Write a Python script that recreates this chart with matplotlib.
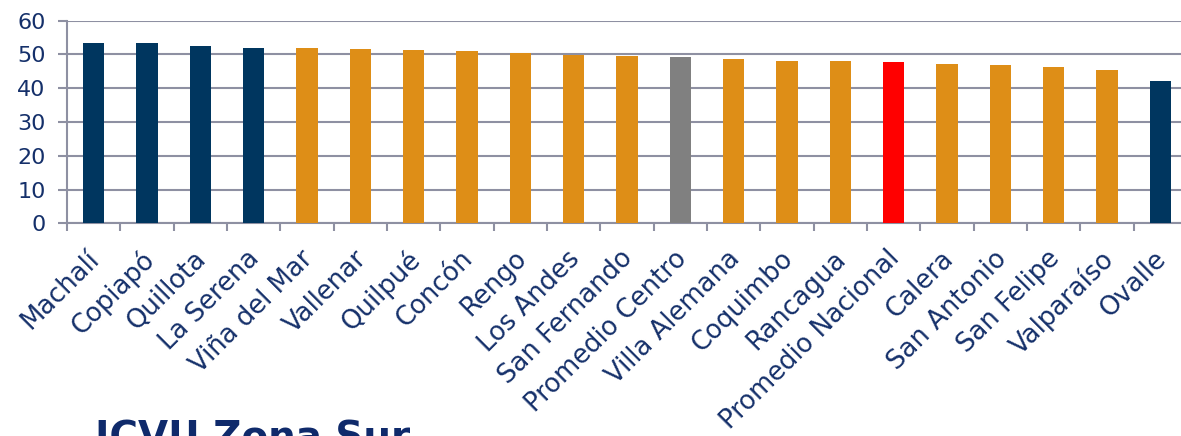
import numpy as np
import matplotlib
matplotlib.use("Agg")
import matplotlib.pyplot as plt
import matplotlib.transforms as mtransforms

# Data
# ----------------------------------------------------------------------
comunas = ["Machalí", "Copiapó", "Quillota", "La Serena", "Viña del Mar",
           "Vallenar", "Quilpué", "Concón", "Rengo", "Los Andes",
           "San Fernando", "Promedio Centro", "Villa Alemana", "Coquimbo",
           "Rancagua", "Promedio Nacional", "Calera", "San Antonio",
           "San Felipe", "Valparaíso", "Ovalle"]
icvu = [53.3, 53.3, 52.6, 52.0, 51.9, 51.6, 51.3, 51.0, 50.4, 49.8,
        49.6, 49.2, 48.7, 48.1, 48.1, 47.8, 47.2, 46.9, 46.3, 45.4, 42.2]
grupo = ["sur", "sur", "sur", "sur", "otra", "otra", "otra", "otra", "otra",
         "otra", "otra", "centro", "otra", "otra", "otra", "nacional", "otra",
         "otra", "otra", "otra", "sur"]
yticks = [0, 10, 20, 30, 40, 50, 60]
TITLE = "ICVU Zona Sur"
# ----------------------------------------------------------------------

COLORS = {"sur": "#00365F", "otra": "#DE8E17", "centro": "#808080",
          "nacional": "#FF0000"}
TEXT = "#15306A"
GRID = "#8E90A2"
LW = 1.5

fig = plt.figure(figsize=(11.81, 4.36), dpi=100)
ax = fig.add_axes([67 / 1181, 1 - 223.3 / 436, 1120 / 1181, 202.6 / 436])

x = np.arange(len(comunas))
ax.bar(x, icvu, width=0.4, color=[COLORS[g] for g in grupo], zorder=3)

ax.set_ylim(0, 60)
ax.set_xlim(-0.5, len(comunas) - 0.5)
ax.set_yticks(yticks)
ax.yaxis.grid(True, color=GRID, linewidth=LW, zorder=0)
ax.tick_params(axis="y", length=6.5, width=LW, color=GRID, labelsize=16,
               labelcolor=TEXT, pad=9)

# category ticks sit between the bars
ax.set_xticks(x - 0.5, minor=True)
ax.set_xticks(x)
ax.tick_params(axis="x", which="minor", length=5.5, width=LW, color=GRID,
               direction="out")
ax.tick_params(axis="x", which="major", length=0, pad=16)
ax.set_xticklabels(comunas, rotation=45, ha="right", rotation_mode="anchor",
                   fontsize=18.6, color=TEXT)
shift = mtransforms.ScaledTranslation(-7 / 100, 0, fig.dpi_scale_trans)
for lbl in ax.get_xticklabels():
    lbl.set_transform(lbl.get_transform() + shift)

for side in ["top", "right"]:
    ax.spines[side].set_visible(False)
for side in ["left", "bottom"]:
    ax.spines[side].set_color(GRID)
    ax.spines[side].set_linewidth(LW)

fig.text(95 / 1181, 1 - 419 / 436, TITLE, fontsize=28, fontweight="bold",
         color="#0F2A6B", va="top", ha="left")

fig.savefig("out.png", dpi=100)
